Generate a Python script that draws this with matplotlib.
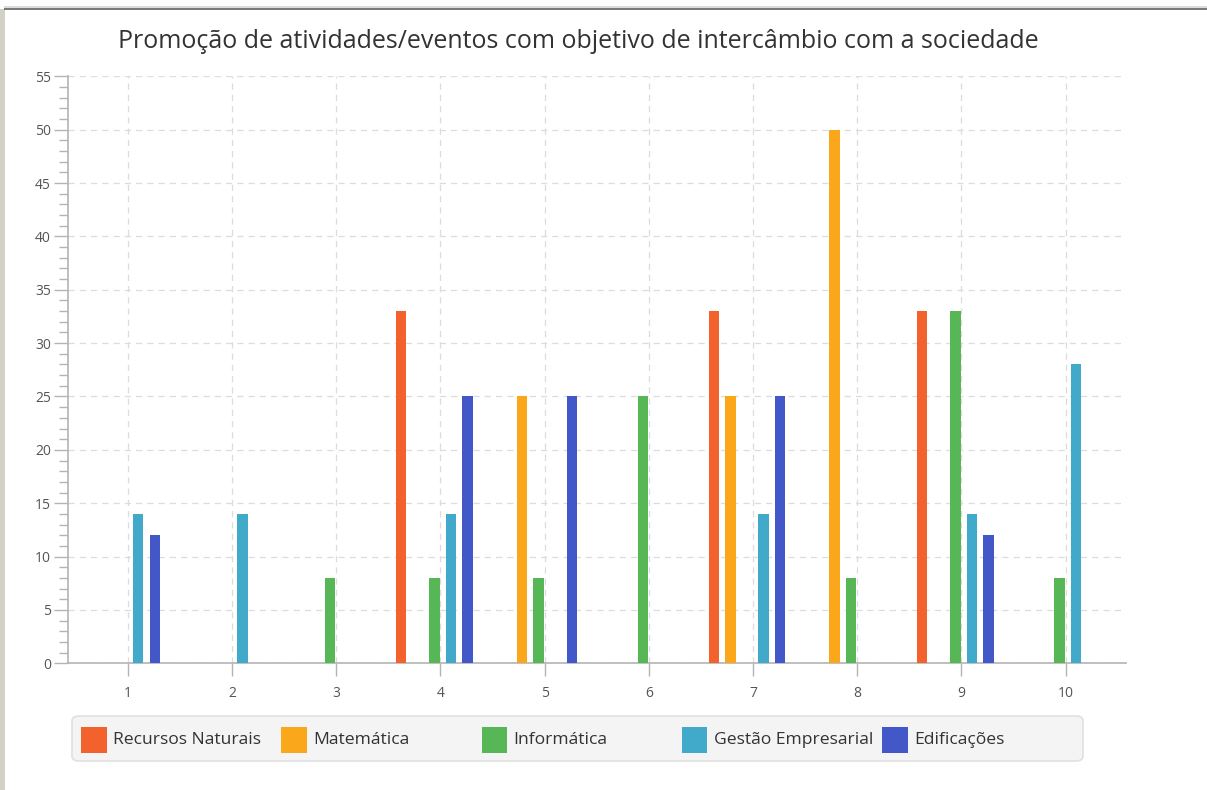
import numpy as np
import matplotlib
matplotlib.use("Agg")
import matplotlib.pyplot as plt
from matplotlib.patches import Rectangle, FancyBboxPatch
from matplotlib.ticker import MultipleLocator

# dados
categorias = ['1', '2', '3', '4', '5', '6', '7', '8', '9', '10']
series = ['Recursos Naturais', 'Matemática', 'Informática', 'Gestão Empresarial', 'Edificações']
recursos = [0, 0, 0, 33, 0, 0, 33, 0, 33, 0]
matematica = [0, 0, 0, 0, 25, 0, 25, 50, 0, 0]
informatica = [0, 0, 8, 8, 8, 25, 0, 8, 33, 8]
gestao = [14, 14, 0, 14, 0, 0, 14, 0, 14, 28]
edificacoes = [12, 0, 0, 25, 25, 0, 25, 0, 12, 0]
cores = ['#f3622d', '#fba71b', '#57b757', '#41a9c9', '#4258c9']
titulo = 'Promoção de atividades/eventos com objetivo de intercâmbio com a sociedade'

plt.rcParams['font.family'] = ['Open Sans', 'DejaVu Sans']

W, H = 1207, 790
fig = plt.figure(figsize=(W / 100, H / 100), dpi=100)
fig.patch.set_facecolor('white')

# moldura da janela
fig.add_artist(Rectangle((0, 0), 5 / W, (H - 9) / H, transform=fig.transFigure,
                         facecolor='#d4d0c8', edgecolor='none'))
fig.add_artist(Rectangle((4 / W, (H - 10) / H), 1, 2 / H, transform=fig.transFigure,
                         facecolor='#7a7a7a', edgecolor='none'))
fig.add_artist(Rectangle((4 / W, (H - 8) / H), 1, 2 / H, transform=fig.transFigure,
                         facecolor='#dcdcdc', edgecolor='none'))

ax = fig.add_axes([68.3 / W, 1 - 663.3 / H, (1126 - 68.3) / W, (663.3 - 76.3) / H])

x = np.arange(1, len(categorias) + 1)
dados = [recursos, matematica, informatica, gestao, edificacoes]
passo = 0.159
largura = 0.099
for i, (nome, vals, cor) in enumerate(zip(series, dados, cores)):
    pos = x - 0.058 + (i - 2) * passo
    ax.bar(pos, vals, width=largura, color=cor, edgecolor='none', label=nome, zorder=3)

ax.set_xlim(1 - 59.4 / 104, 10 + 60.3 / 104)
ax.set_ylim(0, 55)
ax.set_xticks(x)
ax.set_xticklabels(categorias)
ax.yaxis.set_major_locator(MultipleLocator(5))
ax.yaxis.set_minor_locator(MultipleLocator(1))

ax.grid(True, which='major', color='#dcdcdc', linestyle=(0, (5, 4)), linewidth=0.9, zorder=0)
for s in ['top', 'right']:
    ax.spines[s].set_visible(False)
for s in ['left', 'bottom']:
    ax.spines[s].set_color('#b4b4b4')
    ax.spines[s].set_linewidth(1.2)

ax.tick_params(axis='both', which='major', width=1, color='#b4b4b4',
               labelsize=10, labelcolor='#555555')
ax.tick_params(axis='y', which='major', length=10, pad=2.5)
ax.tick_params(axis='y', which='minor', length=6.5, width=1, color='#b4b4b4')
ax.tick_params(axis='x', which='major', length=9, pad=7)

fig.text(578 / W, 1 - 42 / H, titulo, ha='center', va='center', fontsize=18, color='#333333')

# legenda (caixa inferior)
lx0, lx1, ly0, ly1 = 72, 1083, 716, 761
fig.add_artist(FancyBboxPatch((lx0 / W, 1 - ly1 / H), (lx1 - lx0) / W, (ly1 - ly0) / H,
                              boxstyle='round,pad=0,rounding_size=0.006',
                              transform=fig.transFigure, facecolor='#f4f4f4',
                              edgecolor='#e0e0e0', linewidth=1.2))
for i, (nome, cor) in enumerate(zip(series, cores)):
    sx = 81 + i * 200.3
    fig.add_artist(Rectangle((sx / W, 1 - 752.5 / H), 25.5 / W, 25.5 / H,
                             transform=fig.transFigure, facecolor=cor, edgecolor='none'))
    fig.text((sx + 32) / W, 1 - 740 / H, nome, ha='left', va='center',
             fontsize=12.6, color='#333333')

fig.savefig('out.png', dpi=100)
